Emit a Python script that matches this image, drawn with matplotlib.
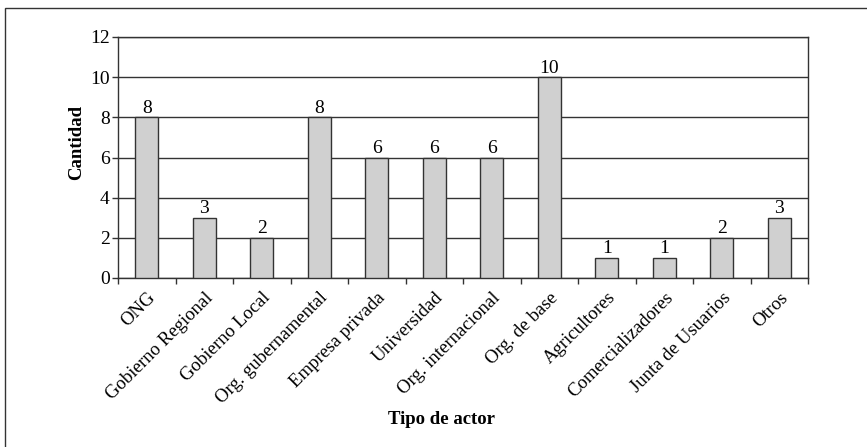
import matplotlib.pyplot as plt
from matplotlib.patches import Rectangle
import matplotlib.transforms as mtransforms
import numpy as np

actores = [
    "ONG", "Gobierno Regional", "Gobierno Local", "Org. gubernamental",
    "Empresa privada", "Universidad", "Org. internacional", "Org. de base",
    "Agricultores", "Comercializadores", "Junta de Usuarios", "Otros",
]
cantidad = [8, 3, 2, 8, 6, 6, 6, 10, 1, 1, 2, 3]
yticks = [0, 2, 4, 6, 8, 10, 12]

plt.rcParams["font.family"] = ["Liberation Serif", "DejaVu Serif"]

fig = plt.figure(figsize=(8.67, 4.47), dpi=100)
W, H = 867, 447
ax = fig.add_axes([118 / W, 1 - 278 / H, (808 - 118) / W, (278 - 37) / H])

# outer frame around the whole chart
fig.patches.append(Rectangle((5 / W, -0.05), 1.1, 1 - 8 / H + 0.05,
                             transform=fig.transFigure, fill=False,
                             edgecolor="#333333", linewidth=1.0))

x = np.arange(len(actores))
ax.bar(x, cantidad, width=0.4, color="#d0d0d0", edgecolor="#333333",
       linewidth=1.0, zorder=3)
for xi, v in zip(x, cantidad):
    ax.text(xi, v + 0.03, str(v), ha="center", va="bottom", fontsize=14,
            zorder=4)

ax.set_xlim(-0.5, len(actores) - 0.5)
ax.set_ylim(0, 12)
ax.set_yticks(yticks)
ax.set_yticklabels([str(t) for t in yticks], fontsize=14)
ax.yaxis.grid(True, color="#333333", linewidth=1.0, zorder=0)
ax.set_axisbelow(True)

# category ticks sit on the boundaries, labels at the bar centres
ax.set_xticks(np.arange(len(actores) + 1) - 0.5)
ax.set_xticklabels([])
ax.set_xticks(x, minor=True)
ax.set_xticklabels(actores, minor=True, rotation=45, ha="right",
                   rotation_mode="anchor", fontsize=13.5)
shift = mtransforms.ScaledTranslation(5 / 100, 0, fig.dpi_scale_trans)
for lbl in ax.get_xticklabels(minor=True):
    lbl.set_transform(lbl.get_transform() + shift)
ax.tick_params(axis="x", which="minor", length=0, pad=8)
ax.tick_params(axis="x", which="major", length=4, width=1, color="#333333")
ax.tick_params(axis="y", length=4, width=1, color="#333333", pad=2)

for s in ax.spines.values():
    s.set_color("#333333")
    s.set_linewidth(1.0)

fig.text(77 / W, 1 - 142 / H, "Cantidad", rotation=90, ha="center",
         va="center", fontsize=13.5, fontweight="bold")
fig.text(442 / W, 1 - 419 / H, "Tipo de actor", ha="center", va="center",
         fontsize=13.5, fontweight="bold")

fig.savefig("out.png", dpi=100)
